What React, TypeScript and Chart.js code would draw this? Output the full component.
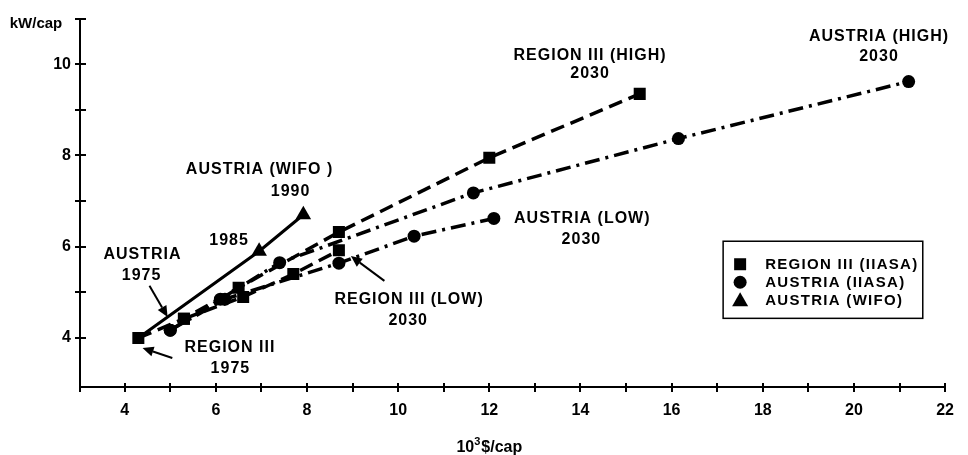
import React, { useEffect, useRef } from 'react';
import { Chart, registerables } from 'chart.js';

Chart.register(...registerables);

// ---- data ----
const regionHighX = [4.3, 5.3, 6.5, 8.7, 12.0, 15.3];
const regionHighY = [4.0, 4.42, 5.1, 6.32, 7.95, 9.35];
const regionLowX = [5.3, 6.6, 7.7, 8.7];
const regionLowY = [4.42, 4.9, 5.4, 5.92];
const austriaHighX = [5.0, 6.1, 7.4, 11.65, 16.15, 21.2];
const austriaHighY = [4.17, 4.85, 5.65, 7.18, 8.37, 9.62];
const austriaLowX = [5.0, 6.2, 8.7, 10.35, 12.1];
const austriaLowY = [4.17, 4.85, 5.64, 6.23, 6.62];
const wifoX = [4.3, 6.95, 7.92];
const wifoY = [4.0, 5.9, 6.7];

const xTickValues = [4, 5, 6, 7, 8, 9, 10, 11, 12, 13, 14, 15, 16, 17, 18, 19, 20, 21, 22];
const xTickLabels = ['4', '', '6', '', '8', '', '10', '', '12', '', '14', '', '16', '', '18', '', '20', '', '22'];
const yTickValues = [4, 5, 6, 7, 8, 9, 10, 11];
const yTickLabels = ['4', '', '6', '', '8', '', '10', ''];

const legendLabels = ['REGION III (IIASA)', 'AUSTRIA (IIASA)', 'AUSTRIA (WIFO)'];
const legendMarkers = ['square', 'circle', 'triangle'];

const yAxisTitle = 'kW/cap';
const xAxisTitleBase = '10';
const xAxisTitleSup = '3';
const xAxisTitleRest = '$/cap';

// annotation texts with their anchor in data coordinates
const annotationTexts = [
  'AUSTRIA (HIGH)', '2030',
  'REGION III (HIGH)', '2030',
  'AUSTRIA (WIFO )', '1990',
  '1985',
  'AUSTRIA', '1975',
  'REGION III', '1975',
  'REGION III (LOW)', '2030',
  'AUSTRIA (LOW)', '2030',
];
const annotationX = [20.55, 20.55, 14.21, 14.21, 6.96, 7.64, 6.29, 4.39, 4.37, 6.31, 6.32, 10.24, 10.22, 14.04, 14.02];
const annotationY = [10.61, 10.17, 10.2, 9.79, 7.68, 7.2, 6.14, 5.82, 5.36, 3.78, 3.32, 4.84, 4.38, 6.62, 6.16];

// arrows: from -> to (data coordinates)
const arrowFromX = [4.544, 5.045, 9.698];
const arrowFromY = [5.144, 3.562, 5.252];
const arrowToX = [4.942, 4.392, 8.964];
const arrowToY = [4.457, 3.779, 5.794];

// legend box corners (data coordinates)
const legendBoxX = [17.13, 21.51];
const legendBoxY = [6.12, 4.43];

const FONT = '"Liberation Sans", Arial, sans-serif';

const pts = (xs: number[], ys: number[]) => xs.map((x, i) => ({ x, y: ys[i] }));

const overlayPlugin = {
  id: 'overlay',
  afterDraw(chart: any) {
    const { ctx, chartArea, scales } = chart;
    const xs = scales.x;
    const ys = scales.y;
    ctx.save();
    ctx.strokeStyle = '#000';
    ctx.fillStyle = '#000';

    // crossing tick marks
    ctx.lineWidth = 2;
    xs.ticks.forEach((_t: any, i: number) => {
      const px = Math.round(xs.getPixelForTick(i));
      ctx.beginPath();
      ctx.moveTo(px, chartArea.bottom - 4);
      ctx.lineTo(px, chartArea.bottom + 5);
      ctx.stroke();
    });
    ctx.beginPath();
    ctx.moveTo(chartArea.left, chartArea.bottom - 4);
    ctx.lineTo(chartArea.left, chartArea.bottom + 5);
    ctx.stroke();
    ys.ticks.forEach((_t: any, i: number) => {
      const py = Math.round(ys.getPixelForTick(i));
      ctx.beginPath();
      ctx.moveTo(chartArea.left - 5, py);
      ctx.lineTo(chartArea.left + 6, py);
      ctx.stroke();
    });

    // axis titles
    ctx.font = `bold 15px ${FONT}`;
    (ctx as any).letterSpacing = '0px';
    ctx.textAlign = 'center';
    ctx.textBaseline = 'middle';
    ctx.fillText(yAxisTitle, chartArea.left - 44, chartArea.top + 5);

    const tx = xs.getPixelForValue(12);
    const ty = chartArea.bottom + 61;
    ctx.font = `bold 16px ${FONT}`;
    const wBase = ctx.measureText(xAxisTitleBase).width;
    const wRest = ctx.measureText(xAxisTitleRest).width;
    ctx.font = `bold 11px ${FONT}`;
    const wSup = ctx.measureText(xAxisTitleSup).width;
    const total = wBase + wSup + wRest + 1;
    let cx = tx - total / 2;
    ctx.textAlign = 'left';
    ctx.font = `bold 16px ${FONT}`;
    ctx.fillText(xAxisTitleBase, cx, ty);
    cx += wBase;
    ctx.font = `bold 11px ${FONT}`;
    ctx.fillText(xAxisTitleSup, cx, ty - 6);
    cx += wSup + 1;
    ctx.font = `bold 16px ${FONT}`;
    ctx.fillText(xAxisTitleRest, cx, ty);

    // annotations
    ctx.font = `bold 16px ${FONT}`;
    (ctx as any).letterSpacing = '1px';
    ctx.textAlign = 'center';
    annotationTexts.forEach((t, i) => {
      ctx.fillText(t, xs.getPixelForValue(annotationX[i]), ys.getPixelForValue(annotationY[i]));
    });

    // arrows
    ctx.lineWidth = 2;
    arrowFromX.forEach((_v, i) => {
      const x1 = xs.getPixelForValue(arrowFromX[i]);
      const y1 = ys.getPixelForValue(arrowFromY[i]);
      const x2 = xs.getPixelForValue(arrowToX[i]);
      const y2 = ys.getPixelForValue(arrowToY[i]);
      const ang = Math.atan2(y2 - y1, x2 - x1);
      const hl = 11;
      const hw = 5;
      const bx = x2 - Math.cos(ang) * hl;
      const by = y2 - Math.sin(ang) * hl;
      ctx.beginPath();
      ctx.moveTo(x1, y1);
      ctx.lineTo(bx, by);
      ctx.stroke();
      ctx.beginPath();
      ctx.moveTo(x2, y2);
      ctx.lineTo(bx + Math.sin(ang) * hw, by - Math.cos(ang) * hw);
      ctx.lineTo(bx - Math.sin(ang) * hw, by + Math.cos(ang) * hw);
      ctx.closePath();
      ctx.fill();
    });

    // legend box
    const lx1 = xs.getPixelForValue(legendBoxX[0]);
    const lx2 = xs.getPixelForValue(legendBoxX[1]);
    const ly1 = ys.getPixelForValue(legendBoxY[0]);
    const ly2 = ys.getPixelForValue(legendBoxY[1]);
    ctx.lineWidth = 1.5;
    ctx.strokeRect(lx1, ly1, lx2 - lx1, ly2 - ly1);
    const rowH = 18;
    const startY = ly1 + 23;
    ctx.textAlign = 'left';
    ctx.font = `bold 15px ${FONT}`;
    (ctx as any).letterSpacing = '1.3px';
    legendLabels.forEach((lab, i) => {
      const my = startY + i * rowH;
      const mx = lx1 + 17;
      const m = legendMarkers[i];
      ctx.beginPath();
      if (m === 'square') {
        ctx.rect(mx - 6, my - 6, 12, 12);
      } else if (m === 'circle') {
        ctx.arc(mx, my, 6.5, 0, Math.PI * 2);
      } else {
        ctx.moveTo(mx, my - 8);
        ctx.lineTo(mx + 8, my + 6);
        ctx.lineTo(mx - 8, my + 6);
        ctx.closePath();
      }
      ctx.fill();
      ctx.fillText(lab, lx1 + 42, my + 1);
    });

    ctx.restore();
  },
};

export default function App() {
  const canvasRef = useRef<HTMLCanvasElement | null>(null);

  useEffect(() => {
    if (!canvasRef.current) return;
    const tickFont = { family: FONT, size: 16, weight: 'bold' as const };
    const chart = new Chart(canvasRef.current, {
      type: 'line',
      data: {
        datasets: [
          {
            label: 'Region III (high)',
            data: pts(regionHighX, regionHighY),
            borderColor: '#000',
            backgroundColor: '#000',
            borderWidth: 3.5,
            borderDash: [14, 7],
            pointStyle: 'rect',
            pointRadius: 8.5,
            pointBorderWidth: 0,
            tension: 0,
          },
          {
            label: 'Region III (low)',
            data: pts(regionLowX, regionLowY),
            borderColor: '#000',
            backgroundColor: '#000',
            borderWidth: 3.5,
            borderDash: [14, 7],
            pointStyle: 'rect',
            pointRadius: 8.5,
            pointBorderWidth: 0,
            tension: 0,
          },
          {
            label: 'Austria (high)',
            data: pts(austriaHighX, austriaHighY),
            borderColor: '#000',
            backgroundColor: '#000',
            borderWidth: 3.5,
            borderDash: [15, 6, 3, 6],
            pointStyle: 'circle',
            pointRadius: 6.5,
            pointBorderWidth: 0,
            tension: 0,
          },
          {
            label: 'Austria (low)',
            data: pts(austriaLowX, austriaLowY),
            borderColor: '#000',
            backgroundColor: '#000',
            borderWidth: 3.5,
            borderDash: [15, 6, 3, 6],
            pointStyle: 'circle',
            pointRadius: 6.5,
            pointBorderWidth: 0,
            tension: 0,
          },
          {
            label: 'Austria (WIFO)',
            data: pts(wifoX, wifoY),
            borderColor: '#000',
            backgroundColor: '#000',
            borderWidth: 3,
            pointStyle: 'triangle',
            pointRadius: [0, 9, 9],
            pointBorderWidth: 0,
            tension: 0,
          },
        ],
      },
      options: {
        animation: false,
        responsive: true,
        maintainAspectRatio: false,
        devicePixelRatio: 1,
        layout: { padding: { top: 15, right: 16, left: 0, bottom: 0 } },
        plugins: { legend: { display: false }, tooltip: { enabled: false } },
        scales: {
          x: {
            type: 'linear',
            min: 3.02,
            max: 22,
            afterBuildTicks: (s: any) => {
              s.ticks = xTickValues.map((v) => ({ value: v }));
            },
            afterFit: (s: any) => {
              s.height = 68;
            },
            ticks: {
              autoSkip: false,
              maxRotation: 0,
              padding: 14,
              color: '#000',
              font: tickFont,
              callback: (v: any) => xTickLabels[xTickValues.indexOf(Number(v))] ?? '',
            },
            grid: { display: false, drawTicks: false },
            border: { display: true, color: '#000', width: 2 },
          },
          y: {
            type: 'linear',
            min: 2.925,
            max: 11,
            afterBuildTicks: (s: any) => {
              s.ticks = yTickValues.map((v) => ({ value: v }));
            },
            afterFit: (s: any) => {
              s.width = 80;
            },
            ticks: {
              autoSkip: false,
              padding: 9,
              color: '#000',
              font: tickFont,
              callback: (v: any) => yTickLabels[yTickValues.indexOf(Number(v))] ?? '',
            },
            grid: { display: false, drawTicks: false },
            border: { display: true, color: '#000', width: 2 },
          },
        },
      },
      plugins: [overlayPlugin],
    });
    return () => chart.destroy();
  }, []);

  return (
    <div style={{ position: 'absolute', left: 0, top: 0, width: 968, height: 455, background: '#fff' }}>
      <canvas ref={canvasRef} />
    </div>
  );
}
